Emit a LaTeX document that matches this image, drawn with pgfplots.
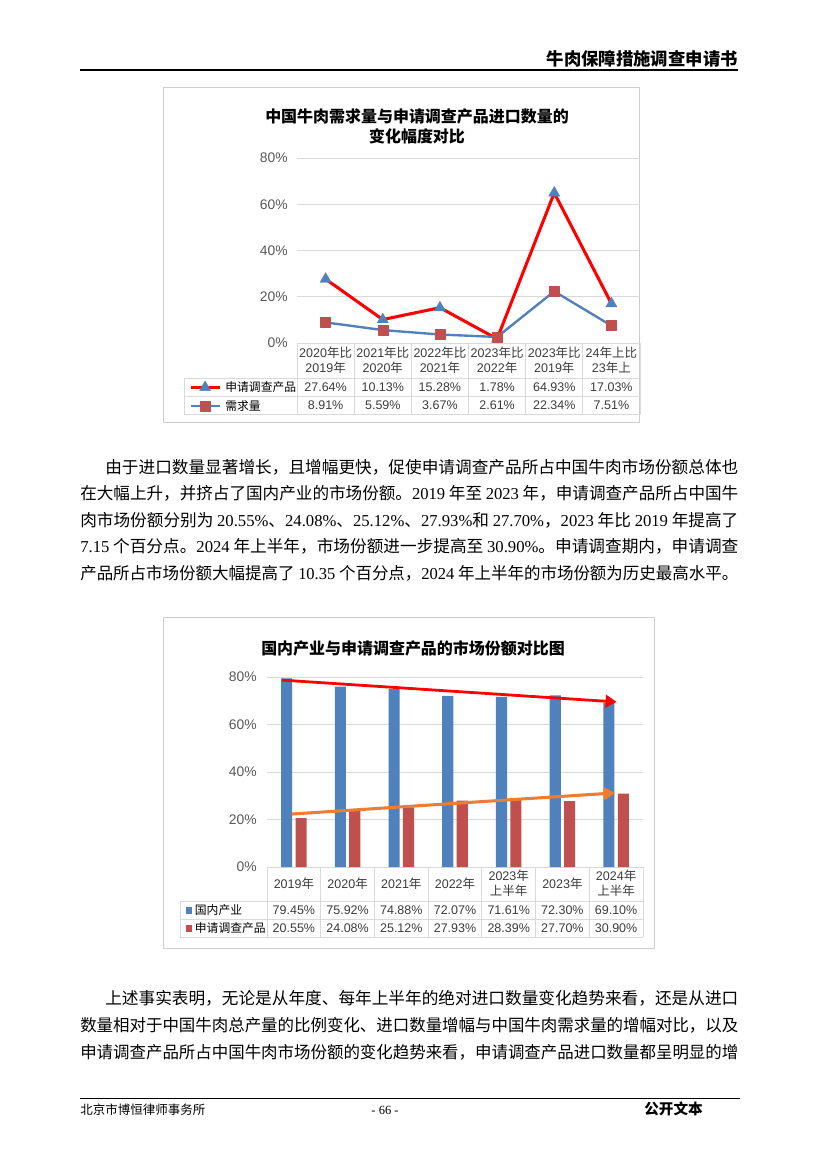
\documentclass[border=0pt]{standalone}
\usepackage{pgfplots}
\pgfplotsset{compat=1.18}
\usepackage{graphicx}
\usepackage{fontspec}
\setmainfont{Liberation Serif}
\setsansfont{Liberation Sans}
\newfontfamily\cjk{Noto Sans CJK SC}
\usetikzlibrary{arrows.meta}
\definecolor{linered}{RGB}{255,0,0}
\definecolor{cblue}{RGB}{79,129,189}
\definecolor{cred}{RGB}{192,80,77}
\definecolor{corange}{RGB}{237,125,49}
\definecolor{gridgray}{RGB}{217,217,217}
\definecolor{framegray}{RGB}{205,205,205}
\definecolor{tickgray}{RGB}{89,89,89}
\definecolor{tabtext}{RGB}{60,60,60}
\newcommand\z[1]{{\rmfamily #1}}
\newcommand\s[1]{{\sffamily #1}}
\newcommand\fullline[1]{\resizebox{473.8pt}{\height}{#1}}
\newcommand\indline[1]{\resizebox{455.8pt}{\height}{#1}}
\begin{document}
\begin{tikzpicture}
\begin{scope}[x=0.72pt,y=-0.72pt,
  body/.style={anchor=base west, inner sep=0pt, font=\cjk\fontsize{12}{14}\selectfont},
  cat/.style={font=\cjk\fontsize{9}{10.8}\selectfont, align=center, inner sep=0pt, text=tabtext},
  val/.style={font=\sffamily\fontsize{9}{10}\selectfont, inner sep=0pt, text=tabtext},
  ttl/.style={font=\cjk\bfseries\fontsize{11.5}{13}\selectfont, inner sep=0pt, anchor=base}]
\fill[white] (0,0) rectangle (827,1170);
% header
\node[anchor=base east, inner sep=0pt, font=\cjk\bfseries\fontsize{12.5}{14}\selectfont] at (738,66) {牛肉保障措施调查申请书};
\draw[line width=0.8pt] (80,70) -- (738,70);
% footer
\draw[line width=0.5pt] (80,1098) -- (740,1098);
\node[anchor=base west, inner sep=0pt, font=\cjk\fontsize{9}{10}\selectfont] at (80,1114) {北京市博恒律师事务所};
\node[anchor=base, inner sep=0pt, font=\rmfamily\fontsize{9}{10}\selectfont] at (385,1114) {- 66 -};
\node[anchor=base east, inner sep=0pt, font=\cjk\bfseries\fontsize{10.5}{12}\selectfont] at (703,1114) {公开文本};
% paragraph 1
\node[body] at (105,473) {\indline{由于进口数量显著增长，且增幅更快，促使申请调查产品所占中国牛肉市场份额总体也}};
\node[body] at (80,499.5) {\fullline{在大幅上升，并挤占了国内产业的市场份额。\z{2019} 年至 \z{2023} 年，申请调查产品所占中国牛}};
\node[body] at (80,526) {\fullline{肉市场份额分别为 \z{20.55\%}、\z{24.08\%}、\z{25.12\%}、\z{27.93\%}和 \z{27.70\%}，\z{2023} 年比 \z{2019} 年提高了}};
\node[body] at (80,552.5) {\fullline{\z{7.15} 个百分点。\z{2024} 年上半年，市场份额进一步提高至 \z{30.90\%}。申请调查期内，申请调查}};
\node[body] at (80,579) {\fullline{产品所占市场份额大幅提高了 \z{10.35} 个百分点，\z{2024} 年上半年的市场份额为历史最高水平。}};
% paragraph 2
\node[body] at (105,1004) {\indline{上述事实表明，无论是从年度、每年上半年的绝对进口数量变化趋势来看，还是从进口}};
\node[body] at (80,1031) {\fullline{数量相对于中国牛肉总产量的比例变化、进口数量增幅与中国牛肉需求量的增幅对比，以及}};
\node[body] at (80,1058) {\fullline{申请调查产品所占中国牛肉市场份额的变化趋势来看，申请调查产品进口数量都呈明显的增}};
% ---------- chart 1 frame, title, table
\draw[framegray, line width=0.6pt] (163,87) rectangle (639,422);
\node[ttl] at (417,123) {中国牛肉需求量与申请调查产品进口数量的};
\node[ttl] at (417,143) {变化幅度对比};
\foreach \i in {0,...,6} \draw[gridgray, line width=0.6pt] ({297+\i*57.167},343) -- ({297+\i*57.167},414);
\draw[gridgray, line width=0.6pt] (297,343) -- (640,343);
\draw[gridgray, line width=0.6pt] (184,378) -- (640,378);
\draw[gridgray, line width=0.6pt] (184,396.5) -- (640,396.5);
\draw[gridgray, line width=0.6pt] (184,414) -- (640,414);
\draw[gridgray, line width=0.6pt] (184,378) -- (184,414);
\node[cat] at (325.6,360.5) {\s{2020}年比\\\s{2019}年};
\node[cat] at (382.8,360.5) {\s{2021}年比\\\s{2020}年};
\node[cat] at (439.9,360.5) {\s{2022}年比\\\s{2021}年};
\node[cat] at (497.1,360.5) {\s{2023}年比\\\s{2022}年};
\node[cat] at (554.3,360.5) {\s{2023}年比\\\s{2019}年};
\node[cat] at (611.4,360.5) {\s{24}年上比\\\s{23}年上};
\node[val] at (325.6,387) {27.64\%};
\node[val] at (382.8,387) {10.13\%};
\node[val] at (439.9,387) {15.28\%};
\node[val] at (497.1,387) {1.78\%};
\node[val] at (554.3,387) {64.93\%};
\node[val] at (611.4,387) {17.03\%};
\node[val] at (325.6,405.5) {8.91\%};
\node[val] at (382.8,405.5) {5.59\%};
\node[val] at (439.9,405.5) {3.67\%};
\node[val] at (497.1,405.5) {2.61\%};
\node[val] at (554.3,405.5) {22.34\%};
\node[val] at (611.4,405.5) {7.51\%};
% ---------- chart 2 frame, title, table
\draw[framegray, line width=0.6pt] (163,617) rectangle (654,948);
\node[ttl] at (413,654) {国内产业与申请调查产品的市场份额对比图};
\foreach \i in {0,...,7} \draw[gridgray, line width=0.6pt] ({267+\i*53.714},867) -- ({267+\i*53.714},937);
\draw[gridgray, line width=0.6pt] (267,867) -- (643,867);
\draw[gridgray, line width=0.6pt] (180,901.5) -- (643,901.5);
\draw[gridgray, line width=0.6pt] (180,919.5) -- (643,919.5);
\draw[gridgray, line width=0.6pt] (180,937) -- (643,937);
\draw[gridgray, line width=0.6pt] (180,901.5) -- (180,937);
\node[cat] at (293.9,884) {\s{2019}年};
\node[cat] at (347.6,884) {\s{2020}年};
\node[cat] at (401.3,884) {\s{2021}年};
\node[cat] at (455.0,884) {\s{2022}年};
\node[cat] at (508.7,883.5) {\s{2023}年\\上半年};
\node[cat] at (562.4,884) {\s{2023}年};
\node[cat] at (616.1,883.5) {\s{2024}年\\上半年};
\node[val] at (293.9,910.5) {79.45\%};
\node[val] at (347.6,910.5) {75.92\%};
\node[val] at (401.3,910.5) {74.88\%};
\node[val] at (455.0,910.5) {72.07\%};
\node[val] at (508.7,910.5) {71.61\%};
\node[val] at (562.4,910.5) {72.30\%};
\node[val] at (616.1,910.5) {69.10\%};
\node[val] at (293.9,928.5) {20.55\%};
\node[val] at (347.6,928.5) {24.08\%};
\node[val] at (401.3,928.5) {25.12\%};
\node[val] at (455.0,928.5) {27.93\%};
\node[val] at (508.7,928.5) {28.39\%};
\node[val] at (562.4,928.5) {27.70\%};
\node[val] at (616.1,928.5) {30.90\%};
\coordinate (A1) at (297,343);
\coordinate (A2) at (267,867);
\end{scope}
% ---------- chart 1 axis
\begin{axis}[
  at={(A1)}, anchor=south west,
  scale only axis, width=246.96pt, height=133.2pt,
  xmin=-0.5, xmax=5.5, ymin=0, ymax=80,
  xtick=\empty, ytick={0,20,40,60,80}, yticklabels={0\%,20\%,40\%,60\%,80\%},
  axis line style={draw=none}, major tick length=0pt,
  ymajorgrids, grid style={draw=gridgray, line width=0.6pt},
  yticklabel style={font=\sffamily\fontsize{10}{12}\selectfont, text=tickgray, inner sep=0pt, anchor=east, xshift=-6.5pt},
  clip=false,
  legend cell align=left,
  legend style={at={(-0.3149,-0.1892)}, anchor=north west, draw=none, fill=none,
    inner sep=0pt, outer sep=0pt, row sep=0pt, column sep=3pt,
    font=\cjk\fontsize{8.5}{10}\selectfont,
    nodes={inner sep=0pt, text height=9.9pt, text depth=3.6pt, text=black}},
  legend image code/.code={\draw[mark repeat=2, mark phase=2, #1] plot coordinates {(0pt,0pt) (10.5pt,0pt) (21pt,0pt)};},
]
\addplot[color=linered, line width=2.2pt, line join=round, mark=triangle*, mark size=4.6pt,
  mark options={fill=cblue, draw=cblue, line width=0.3pt}]
  coordinates {(0,27.64) (1,10.13) (2,15.28) (3,1.78) (4,64.93) (5,17.03)};
\addlegendentry{申请调查产品}
\addplot[color=cblue, line width=1.7pt, line join=round, mark=square*, mark size=3.6pt,
  mark options={fill=cred, draw=cred, line width=0.3pt}]
  coordinates {(0,8.91) (1,5.59) (2,3.67) (3,2.61) (4,22.34) (5,7.51)};
\addlegendentry{需求量}
\end{axis}
% ---------- chart 2 axis
\begin{axis}[
  at={(A2)}, anchor=south west,
  scale only axis, width=270.72pt, height=136.8pt,
  xmin=-0.5, xmax=6.5, ymin=0, ymax=80,
  xtick=\empty, ytick={0,20,40,60,80}, yticklabels={0\%,20\%,40\%,60\%,80\%},
  axis line style={draw=none}, major tick length=0pt,
  ymajorgrids, grid style={draw=gridgray, line width=0.6pt},
  yticklabel style={font=\sffamily\fontsize{10}{12}\selectfont, text=tickgray, inner sep=0pt, anchor=east, xshift=-7.2pt},
  clip=false,
  legend cell align=left,
  legend style={at={(-0.2154,-0.1816)}, anchor=north west, draw=none, fill=none,
    inner sep=0pt, outer sep=0pt, row sep=0pt, column sep=2pt,
    font=\cjk\fontsize{8.5}{10}\selectfont,
    nodes={inner sep=0pt, text height=9.7pt, text depth=3.25pt, text=black}},
  legend image code/.code={\draw[#1, draw=none] (0pt,-2.2pt) rectangle (4.4pt,2.2pt);},
]
\addplot[ybar, bar width=8pt, bar shift=-5.2pt, fill=cblue, draw=none]
  coordinates {(0,79.45) (1,75.92) (2,74.88) (3,72.07) (4,71.61) (5,72.30) (6,69.10)};
\addlegendentry{国内产业}
\addplot[ybar, bar width=8pt, bar shift=5.2pt, fill=cred, draw=none]
  coordinates {(0,20.55) (1,24.08) (2,25.12) (3,27.93) (4,28.39) (5,27.70) (6,30.90)};
\addlegendentry{申请调查产品}
\addplot[linered, line width=2pt, -{Triangle[length=8pt, width=9pt]}, forget plot]
  coordinates {(-0.22,78.7) (6.01,69.5)};
\addplot[corange, line width=2.2pt, -{Triangle[length=8pt, width=9pt]}, forget plot]
  coordinates {(-0.04,22.3) (5.98,31.2)};
\end{axis}
\end{tikzpicture}
\end{document}
